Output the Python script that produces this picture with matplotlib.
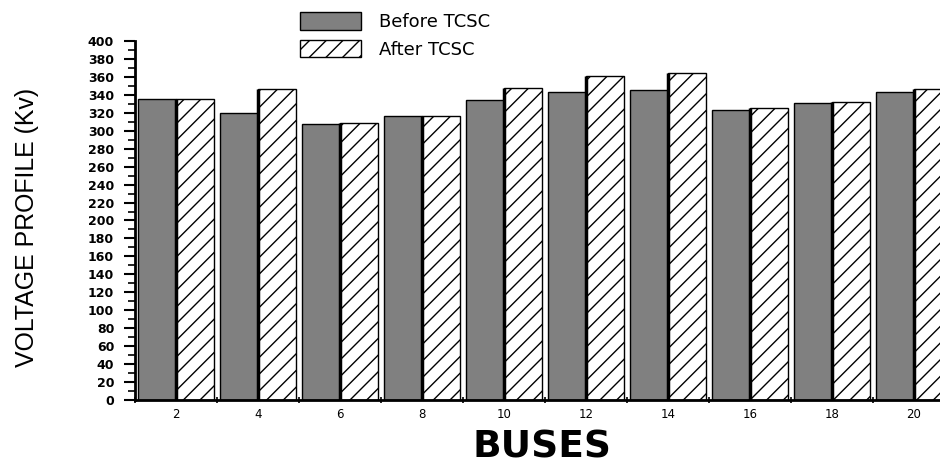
import matplotlib
matplotlib.use("Agg")
import matplotlib.pyplot as plt
import numpy as np
from matplotlib import font_manager
from matplotlib.ticker import MultipleLocator

# Bus numbers and voltage profile (kV)
buses = [2, 4, 6, 8, 10, 12, 14, 16, 18, 20]
before_tcsc = [335, 320, 307, 316, 334, 343, 345, 323, 331, 343]
after_tcsc = [335, 346, 309, 316, 348, 361, 364, 325, 332, 346]

GRAY = "#808080"

plt.rcParams["hatch.linewidth"] = 1.0

fig = plt.figure(figsize=(9.4, 4.68), dpi=100)
# the plot runs off the right edge in the reference, so the axes do too
ax = fig.add_axes([0.1436, 0.1453, 0.8723, 0.7671])

x = np.arange(len(buses))
w = 0.465
off = 0.235
ax.bar(x - off, before_tcsc, w, color=GRAY, edgecolor="black", linewidth=1.0,
       label="Before TCSC")
ax.bar(x + off, after_tcsc, w, color="white", edgecolor="black", linewidth=1.0,
       hatch="//", label="After TCSC")
# heavy dark line where the two bars of a pair touch
ax.vlines(x + off - w / 2, 0, after_tcsc, color="black", linewidth=2.5)

ax.set_xlim(-0.5, len(buses) - 0.5)
ax.set_ylim(0, 400)

ax.yaxis.set_major_locator(MultipleLocator(20))
ax.yaxis.set_minor_locator(MultipleLocator(10))
ax.tick_params(axis="y", which="major", direction="out", length=8, width=1.5,
               pad=7, labelsize=9)
ax.tick_params(axis="y", which="minor", direction="out", length=5, width=1.2)
for lbl in ax.get_yticklabels():
    lbl.set_fontweight("bold")

ax.set_xticks(x)
ax.set_xticklabels([str(b) for b in buses])
ax.set_xticks(np.arange(len(buses) + 1) - 0.5, minor=True)
ax.tick_params(axis="x", which="major", length=0, pad=6, labelsize=8.5)
ax.tick_params(axis="x", which="minor", direction="inout", length=5, width=1.2)

for side in ("top", "right"):
    ax.spines[side].set_visible(False)
ax.spines["left"].set_linewidth(2)
ax.spines["bottom"].set_linewidth(2)

# condensed y label: prefer a narrow face, then shrink to the reference length
names = {f.name for f in font_manager.fontManager.ttflist}
ylab_family = "Liberation Sans Narrow" if "Liberation Sans Narrow" in names else "Liberation Sans"
ylab = fig.text(0.029, 0.513, "VOLTAGE PROFILE (Kv)", rotation=90, ha="center",
                va="center", fontsize=22, family=ylab_family)
renderer = fig.canvas.get_renderer()
h = ylab.get_window_extent(renderer).height
ylab.set_fontsize(22 * 280.0 / h)

fig.text(0.577, 0.022, "BUSES", ha="center", va="baseline", fontsize=27,
         fontweight="bold", family="DejaVu Sans")

fig.legend(loc="upper left", bbox_to_anchor=(0.319, 0.974), frameon=False,
           fontsize=13, handlelength=3.4, handleheight=1.1, labelspacing=0.5,
           handletextpad=1.0, borderpad=0, borderaxespad=0)

fig.savefig("out.png", dpi=100)
